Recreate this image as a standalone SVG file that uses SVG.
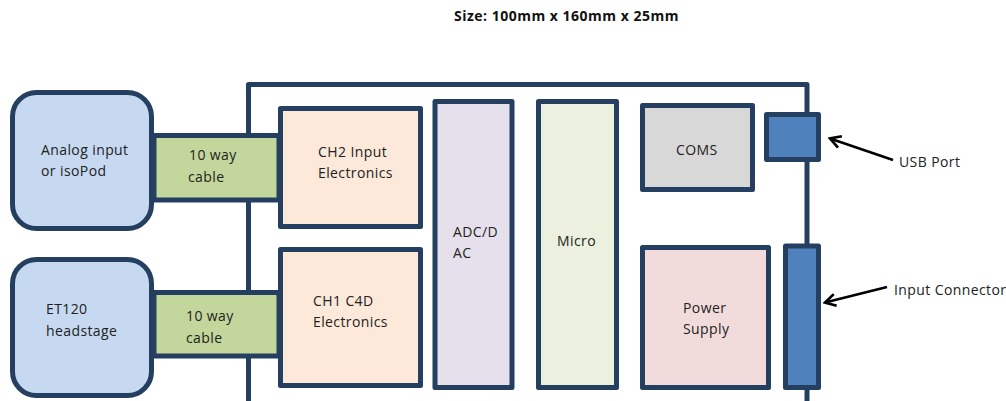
<svg xmlns="http://www.w3.org/2000/svg" width="1006" height="401" viewBox="0 0 1006 401">
<style>
text{font-family:"Open Sans","Noto Sans","Liberation Sans",sans-serif;font-size:14px;fill:#222;letter-spacing:0.4px}
.b{stroke:#243F60;stroke-width:5;stroke-linejoin:round}
.title{font-weight:bold;font-size:14px;fill:#111;letter-spacing:0.5px}
.arr{stroke:#000;stroke-width:2.5;fill:none}
</style>
<defs>
<marker id="ah" viewBox="0 0 10 10" refX="8.5" refY="5" markerWidth="6" markerHeight="6" orient="auto" markerUnits="strokeWidth">
<path d="M1.5,1 L8.5,5 L1.5,9" fill="none" stroke="#000" stroke-width="1.8"/>
</marker>
</defs>
<rect width="1006" height="401" fill="#fff"/>
<text class="title" x="454" y="21">Size: 100mm x 160mm x 25mm</text>
<g id="enclosure">
<path d="M248.5,401 V84.5 H807 V401" fill="none" class="b"/>
</g>
<g id="analog-input">
<rect class="b" x="12.5" y="92.5" width="139" height="136" rx="24" fill="#C6D9F1"/>
<text x="41" y="155">Analog input</text>
<text x="41" y="176">or isoPod</text>
</g>
<g id="et120">
<rect class="b" x="12.5" y="259.5" width="139" height="136" rx="24" fill="#C6D9F1"/>
<text x="46" y="314">ET120</text>
<text x="46" y="336">headstage</text>
</g>
<g id="cable1">
<rect class="b" x="154" y="135.5" width="125" height="64.5" fill="#C3D69B"/>
<text x="189" y="160">10 way</text>
<text x="188" y="182">cable</text>
</g>
<g id="cable2">
<rect class="b" x="154" y="292.5" width="125" height="63.5" fill="#C3D69B"/>
<text x="186" y="321">10 way</text>
<text x="186" y="343">cable</text>
</g>
<g id="ch2">
<rect class="b" x="280.5" y="108.5" width="140" height="118" fill="#FDE9D9"/>
<text x="318" y="157">CH2 Input</text>
<text x="318" y="178">Electronics</text>
</g>
<g id="ch1">
<rect class="b" x="280.5" y="249.5" width="140" height="136" fill="#FDE9D9"/>
<text x="313" y="306">CH1 C4D</text>
<text x="313" y="327">Electronics</text>
</g>
<g id="adcdac">
<rect class="b" x="435" y="101.5" width="77" height="286" fill="#E5E0EC"/>
<text x="453" y="237">ADC/D</text>
<text x="453" y="258">AC</text>
</g>
<g id="micro">
<rect class="b" x="538.5" y="101.5" width="78" height="286" fill="#EBF1DE"/>
<text x="557" y="246">Micro</text>
</g>
<g id="coms">
<rect class="b" x="642.5" y="105.5" width="110" height="84" fill="#D8D8D8"/>
<text x="676" y="155">COMS</text>
</g>
<g id="power">
<rect class="b" x="642.5" y="247.5" width="126" height="140" fill="#F2DCDB"/>
<text x="683" y="313">Power</text>
<text x="683" y="334">Supply</text>
</g>
<g id="usb">
<rect class="b" x="766.5" y="114.5" width="52" height="45" fill="#4F81BD"/>
</g>
<g id="input-connector">
<rect class="b" x="785.5" y="246" width="33" height="141.5" fill="#4F81BD"/>
</g>
<g id="connectors">
<line class="arr" x1="893" y1="160" x2="830" y2="138.5" marker-end="url(#ah)"/>
<line class="arr" x1="887" y1="287" x2="825" y2="302.5" marker-end="url(#ah)"/>
</g>
<g id="labels">
<text x="899" y="167">USB Port</text>
<text x="894" y="295">Input Connector</text>
</g>
</svg>
